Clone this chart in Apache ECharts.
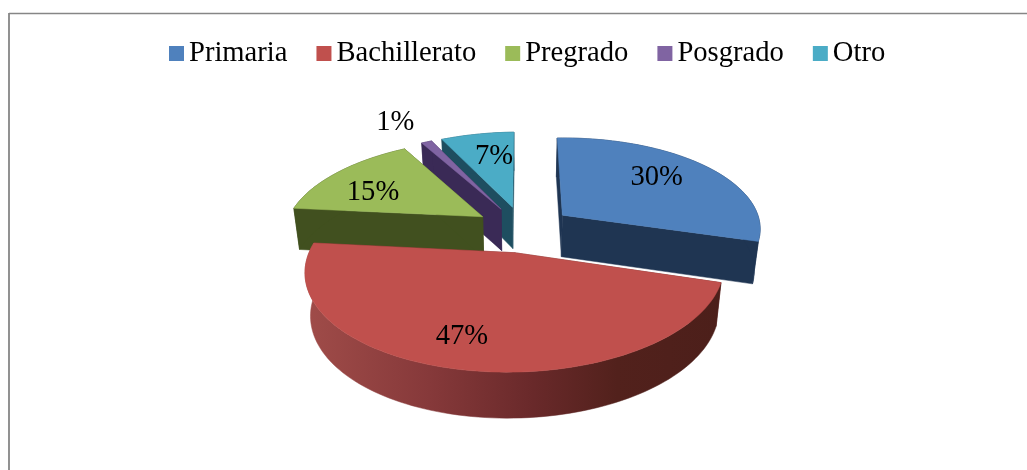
<!DOCTYPE html>
<html>
<head>
<meta charset="utf-8">
<title>Nivel educativo</title>
<style>
  html, body { margin: 0; padding: 0; background: #fff; }
  #chart { width: 1027px; height: 470px; }
</style>
<script src="https://cdn.jsdelivr.net/npm/echarts@6/dist/echarts.min.js"></script>
</head>
<body>
<div id="chart"></div>
<script>
var categories = ['Primaria', 'Bachillerato', 'Pregrado', 'Posgrado', 'Otro'];
var shares = [30, 47, 15, 1, 7];

var topColors = ['#4f81bd', '#c0504d', '#9bbb59', '#8064a2', '#4bacc6'];
var wallColors = ['#1f3552', '#6d2b29', '#41501f', '#3a2a56', '#1e4e60'];
// back to front, Bachillerato sits on top of everything
var drawOrder = [4, 5, 3, 2, 1];
// where each label sits on its slice: radius, and turn away from the middle of the slice
var labelRadius = [0.7, 0.75, 0.68, 1.38, 0.67];
var labelTurn = [-4.6, 3.4, -6.2, -2, 3];
// small sideways correction per slice, px
var sliceNudge = [0, 3, 0, 0, 0];

var FONT = '"Liberation Serif", "Times New Roman", serif';
var FONT_SIZE = 28.6;
var view = { cx: 523, cy: 229, rx: 199, ry: 92.9, persp: 0.154, explode: 0.25, depth: 42, roll: 0.013 };

/**
 * Perspective projection of a point on the pie plane (unit radius).
 * @param {number} x
 * @param {number} z
 * @param {boolean} low true for the bottom face of the pie
 * @returns {number[]}
 */
function project(x, z, low) {
    var d = 1 + view.persp * z;
    var sx = view.cx + view.rx * x / d;
    var sy = view.cy - view.ry * z / d;
    sy -= view.roll * (sx - view.cx);
    if (low) {
        sx = view.cx + (sx - view.cx) * 0.975;
        sy += view.depth / (1 + 0.07 * z);
    }
    return [sx, sy];
}

/**
 * Start and end angle (radians, clockwise from 12 o'clock) of a slice.
 * @param {number} idx
 * @returns {number[]}
 */
function sliceAngles(idx) {
    var total = shares.reduce(function (a, b) { return a + b; }, 0);
    var before = shares.slice(0, idx).reduce(function (a, b) { return a + b; }, 0);
    return [before / total * Math.PI * 2, (before + shares[idx]) / total * Math.PI * 2];
}

function polygon(points, fill, z2) {
    return {
        type: 'polygon',
        z2: z2,
        shape: { points: points },
        style: { fill: fill, stroke: fill, lineWidth: 0.5 }
    };
}

/**
 * Draw one exploded slice: cut faces, outer wall, top and label.
 * @param {number} idx
 * @returns {object}
 */
function renderSlice(idx) {
    var ang = sliceAngles(idx);
    var mid = (ang[0] + ang[1]) / 2;
    var ox = Math.sin(mid) * view.explode;
    var oz = Math.cos(mid) * view.explode;
    var steps = Math.max(4, Math.ceil((ang[1] - ang[0]) / 0.03));
    var upper = [];
    var lower = [];
    for (var i = 0; i <= steps; i++) {
        var t = ang[0] + (ang[1] - ang[0]) * i / steps;
        upper.push(project(ox + Math.sin(t), oz + Math.cos(t), false));
        lower.push(project(ox + Math.sin(t), oz + Math.cos(t), true));
    }
    var apexUp = project(ox, oz, false);
    var apexLow = project(ox, oz, true);
    var wallFill = wallColors[idx];
    if (idx === 1) {
        wallFill = new echarts.graphic.LinearGradient(0, 0, 1, 0, [
            { offset: 0, color: '#a04c49' },
            { offset: 0.3, color: '#86393a' },
            { offset: 0.55, color: '#69292a' },
            { offset: 0.75, color: '#52211c' },
            { offset: 1, color: '#4c1f1a' }
        ]);
    }
    var children = [
        polygon([apexUp, upper[0], lower[0], apexLow], wallColors[idx], 1),
        polygon([apexUp, upper[steps], lower[steps], apexLow], wallColors[idx], 1),
        polygon(upper.concat(lower.slice().reverse()), wallFill, 2),
        polygon([apexUp].concat(upper), topColors[idx], 3)
    ];
    var lt = mid + labelTurn[idx] * Math.PI / 180;
    var lp = project(ox + labelRadius[idx] * Math.sin(lt), oz + labelRadius[idx] * Math.cos(lt), false);
    children.push({
        type: 'text',
        z2: 4,
        x: -sliceNudge[idx],
        style: {
            x: lp[0],
            y: lp[1] + 1,
            text: shares[idx] + '%',
            fill: '#000',
            font: FONT_SIZE + 'px ' + FONT,
            align: 'center',
            verticalAlign: 'middle'
        }
    });
    return { type: 'group', x: sliceNudge[idx], children: children };
}

var series = categories.map(function (name, idx) {
    return {
        type: 'custom',
        name: name,
        coordinateSystem: 'none',
        z: drawOrder[idx],
        silent: true,
        animation: false,
        data: [shares[idx]],
        itemStyle: { color: topColors[idx] },
        renderItem: function () { return renderSlice(idx); }
    };
});

var chart = echarts.init(document.getElementById('chart'), null, { renderer: 'canvas' });
chart.setOption({
    animation: false,
    backgroundColor: '#fff',
    color: topColors,
    legend: {
        data: categories,
        left: 164,
        top: 34,
        itemWidth: 15,
        itemHeight: 15,
        itemGap: 29,
        icon: 'rect',
        selectedMode: false,
        textStyle: { fontFamily: FONT, fontSize: FONT_SIZE, color: '#000' }
    },
    graphic: [
        { type: 'line', shape: { x1: 9, y1: 13.5, x2: 1027, y2: 13.5 }, style: { stroke: '#868686', lineWidth: 1.5 }, silent: true },
        { type: 'line', shape: { x1: 9, y1: 13, x2: 9, y2: 470 }, style: { stroke: '#868686', lineWidth: 1.8 }, silent: true }
    ],
    series: series
});
</script>
</body>
</html>
